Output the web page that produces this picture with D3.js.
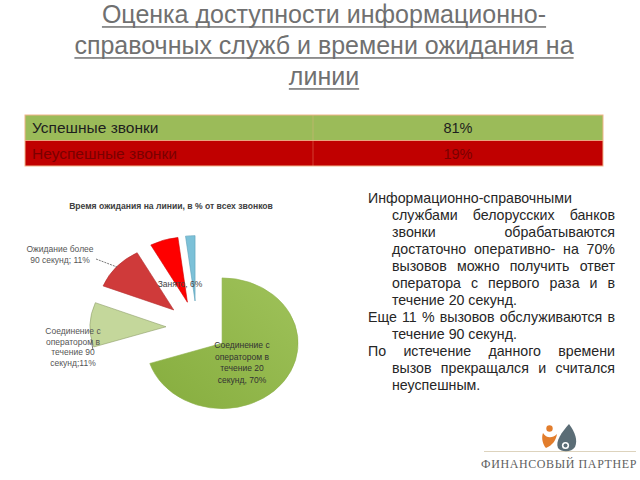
<!DOCTYPE html>
<html><head><meta charset="utf-8">
<script src="https://cdn.jsdelivr.net/npm/d3@7"></script>
<style>body{margin:0;background:#fff}svg{display:block}</style>
</head><body>
<svg id="c" width="640" height="480"></svg>
<script>
// ---------- data ----------
const titleLines = ["Оценка доступности информационно-", "справочных служб и времени ожидания на", "линии"];
const tableCategories = ["Успешные звонки", "Неуспешные звонки"];
const tableValues = [81, 19];
const pieTitle = "Время ожидания на линии, в % от всех звонков";
const pieCategories = ["Соединение с оператором в течение 20 секунд", "Соединение с оператором в течение 90 секунд", "Ожидание более 90 секунд", "Занято", "Нет ответа"];
const pieValues = [70, 11, 11, 6, 2];
const pieLabels = [["Соединение с", "оператором в", "течение 20", "секунд, 70%"], ["Соединение с", "оператором в", "течение 90", "секунд;11%"], ["Ожидание более", "90 секунд; 11%"], ["Занято, 6%"], []];
const paragraphs = [
  ["Информационно-справочными", "службами белорусских банков", "звонки обрабатываются", "достаточно оперативно- на 70%", "вызовов можно получить ответ", "оператора с первого раза и  в", "течение 20 секунд."],
  ["Еще 11 % вызовов обслуживаются в", "течение 90 секунд."],
  ["По  истечение  данного  времени", "вызов прекращался и считался", "неуспешным."]
];
const logoText = "ФИНАНСОВЫЙ ПАРТНЕР";

// ---------- drawing ----------
const svg = d3.select("#c");
const sans = "'Liberation Sans', Arial, sans-serif";

// Title
const titleColor = "#707070";
titleLines.forEach((t, i) => {
  const y = 23 + i * 31;
  const tx = svg.append("text").attr("x", 324).attr("y", y).attr("text-anchor", "middle")
    .attr("font-family", sans).attr("font-size", 25).attr("fill", titleColor).text(t);
  const w = tx.node().getComputedTextLength();
  svg.append("rect").attr("x", 324 - w / 2).attr("y", y + 3.2).attr("width", w).attr("height", 1.5).attr("fill", titleColor);
});

// Table
const tx0 = 25, tx1 = 603, tDiv = 313, tTop = 115, rowH = 25.5;
const rowY = d3.scaleBand().domain(tableCategories).range([tTop, tTop + rowH * tableCategories.length]);
const rowFill = ["#9bbb59", "#c00000"];
const rowText = ["#1e1e1e", "#7a0000"];
tableCategories.forEach((c, i) => {
  const y = rowY(c);
  svg.append("rect").attr("x", tx0).attr("y", y).attr("width", tx1 - tx0).attr("height", rowY.bandwidth()).attr("fill", rowFill[i]);
  svg.append("text").attr("x", 32).attr("y", y + rowY.bandwidth() / 2 + 5.5).attr("font-family", sans).attr("font-size", 15.5).attr("fill", rowText[i]).text(c);
  svg.append("text").attr("x", (tDiv + tx1) / 2).attr("y", y + rowY.bandwidth() / 2 + 5.5).attr("text-anchor", "middle").attr("font-family", sans).attr("font-size", 14.5).attr("fill", rowText[i]).text(tableValues[i] + "%");
});
svg.append("rect").attr("x", tx0).attr("y", tTop).attr("width", tx1 - tx0).attr("height", rowH * 2).attr("fill", "none").attr("stroke", "#f2b48a").attr("stroke-width", 1);
svg.append("line").attr("x1", tx0).attr("x2", tx1).attr("y1", tTop + rowH).attr("y2", tTop + rowH).attr("stroke", "#f2b48a").attr("stroke-width", 0.8);
svg.append("line").attr("x1", tDiv).attr("x2", tDiv).attr("y1", tTop).attr("y2", tTop + rowH * 2).attr("stroke", "#f2b48a").attr("stroke-width", 0.6).attr("opacity", 0.6);

// Pie chart
svg.append("text").attr("x", 171).attr("y", 209).attr("text-anchor", "middle").attr("font-family", sans)
  .attr("font-size", 8.6).attr("font-weight", "bold").attr("fill", "#404040").text(pieTitle);

const defs = svg.append("defs");
const g1 = defs.append("linearGradient").attr("id", "gGreen").attr("x1", "1").attr("y1", "0").attr("x2", "0").attr("y2", "1");
g1.append("stop").attr("offset", "0").attr("stop-color", "#9fc25a");
g1.append("stop").attr("offset", "1").attr("stop-color", "#86ad3e");
const sliceFill = ["url(#gGreen)", "#c4d79b", "#cf3a3a", "#fe0000", "#7cc1d8"];
const sliceStroke = ["#8db04a", "#8f9e6a", "#b33030", "#d00000", "#5a9fb8"];

// labels placed first (slices overlap them like in reference)
const labelPos = [[242, 348, 11.5, "#333"], [73, 334, 10.5, "#555"], [60, 252, 10.5, "#555"], [180, 287, 10, "#444"], [0, 0, 0, "#000"]];
const pieG = svg.append("g").attr("transform", "translate(197,327.6) scale(1,0.86)");
const labelG = svg.append("g");
const pie = d3.pie().sort(null).value(d => d).startAngle(0).endAngle(2 * Math.PI);
const arcs = pie(pieValues);
const arc = d3.arc().innerRadius(0).outerRadius(76);
const explode = 31;
labelG.append("line").attr("x1", 96).attr("y1", 259).attr("x2", 117).attr("y2", 267)
  .attr("stroke", "#555").attr("stroke-width", 0.8).attr("stroke-dasharray", "2,1");
labelG.append("line").attr("x1", 91).attr("y1", 339).attr("x2", 93).attr("y2", 350)
  .attr("stroke", "#555").attr("stroke-width", 0.8);
arcs.forEach((a, i) => {
  const [lx, ly, lh, col] = labelPos[i];
  if (i === 0) return;
  pieLabels[i].forEach((t, k) => {
    labelG.append("text").attr("x", lx).attr("y", ly + k * lh).attr("text-anchor", "middle")
      .attr("font-family", sans).attr("font-size", 8.5).attr("fill", col).text(t);
  });
});
pieG.selectAll("path").data(arcs).join("path")
  .attr("d", arc)
  .attr("transform", d => {
    const m = (d.startAngle + d.endAngle) / 2;
    return `translate(${explode * Math.sin(m)},${-explode * Math.cos(m)})`;
  })
  .attr("fill", (d, i) => sliceFill[i])
  .attr("stroke", (d, i) => sliceStroke[i])
  .attr("stroke-width", 0.6)
  .attr("vector-effect", "non-scaling-stroke");
{
  const [lx, ly, lh, col] = labelPos[0];
  pieLabels[0].forEach((t, k) => {
    svg.append("text").attr("x", lx).attr("y", ly + k * lh).attr("text-anchor", "middle")
      .attr("font-family", sans).attr("font-size", 8.5).attr("fill", col).text(t);
  });
}

// Paragraph text (hanging indent, justified)
const pX0 = 368, pX1 = 392, pRight = 615, pFont = 14.2, lineH = 17.0;
let lineIdx = 0;
const measure = svg.append("text").attr("font-family", sans).attr("font-size", pFont).attr("visibility", "hidden");
function wWidth(t) { measure.text(t); return measure.node().getComputedTextLength(); }
paragraphs.forEach(par => {
  par.forEach((line, k) => {
    const y = 203 + lineIdx * lineH;
    const x0 = k === 0 ? pX0 : pX1;
    const last = k === par.length - 1;
    const words = line.split(/\s+/);
    const t = svg.append("text").attr("y", y).attr("font-family", sans).attr("font-size", pFont).attr("fill", "#262626");
    if (last || words.length < 2) {
      t.attr("x", x0).text(line);
    } else {
      const widths = words.map(wWidth);
      const total = d3.sum(widths);
      const gap = Math.max(2.5, (pRight - x0 - total) / (words.length - 1));
      let x = x0;
      words.forEach((w, j) => {
        t.append("tspan").attr("x", x).text(w);
        x += widths[j] + gap;
      });
    }
    lineIdx++;
  });
});
measure.remove();

// Logo
const logo = svg.append("g");
logo.append("line").attr("x1", 484).attr("x2", 636).attr("y1", 451.5).attr("y2", 451.5).attr("stroke", "#ddd3bd").attr("stroke-width", 1.2);
logo.append("circle").attr("cx", 549.5).attr("cy", 428.5).attr("r", 3.2).attr("fill", "#e27d2c");
logo.append("path").attr("d", "M543,433 C546,438 552,439 557,434 C556,440 553,445 546,448 C543,445 541,438 543,433 Z").attr("fill", "#e27d2c");
logo.append("path").attr("d", "M569,424 C575,432 578,440 575,447 C572,452 562,453 558,448 C555,441 562,432 569,424 Z").attr("fill", "#5b6d76");
logo.append("circle").attr("cx", 565.5).attr("cy", 445.5).attr("r", 3.6).attr("fill", "#fff");
logo.append("circle").attr("cx", 565.5).attr("cy", 445.5).attr("r", 2.0).attr("fill", "#5b6d76");
logo.append("text").attr("x", 559).attr("y", 468).attr("text-anchor", "middle").attr("font-family", "'Liberation Serif', 'DejaVu Serif', serif")
  .attr("font-size", 12).attr("letter-spacing", 0.6).attr("fill", "#5f5f5f").text(logoText);
</script>
</body></html>
